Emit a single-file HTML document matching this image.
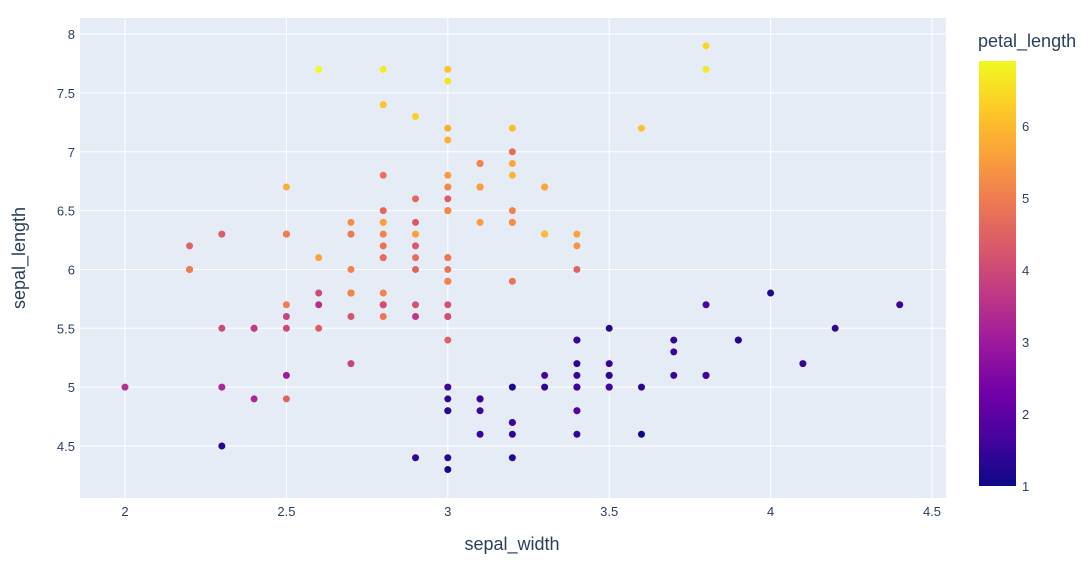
<!DOCTYPE html>
<html><head><meta charset="utf-8"><style>
body{margin:0;background:#fff;}
svg text{font-family:"Liberation Sans",sans-serif;fill:#2a3f5f;}
</style></head><body>
<svg id="chart" width="1091" height="561">
<defs><linearGradient id="plasma" x1="0" y1="1" x2="0" y2="0">
<stop offset="0" stop-color="#0d0887"/><stop offset="0.111" stop-color="#46039f"/><stop offset="0.222" stop-color="#7201a8"/><stop offset="0.333" stop-color="#9c179e"/><stop offset="0.444" stop-color="#bd3786"/><stop offset="0.555" stop-color="#d8576b"/><stop offset="0.666" stop-color="#ed7953"/><stop offset="0.777" stop-color="#fb9f3a"/><stop offset="0.888" stop-color="#fdca26"/><stop offset="1" stop-color="#f0f921"/>
</linearGradient></defs>
<rect x="80" y="18" width="866" height="480" fill="#e5ecf6"/>
<g id="grid"></g><g id="pts"></g><g id="ticks"></g>
<text x="512" y="550" font-size="18" text-anchor="middle">sepal_width</text>
<text transform="translate(25,258) rotate(-90)" font-size="18" text-anchor="middle">sepal_length</text>
<text x="978" y="47" font-size="18">petal_length</text>
<rect x="979" y="61" width="37" height="425" fill="url(#plasma)"/>
</svg>
<script>
const sepalLength=[5.1,4.9,4.7,4.6,5.0,5.4,4.6,5.0,4.4,4.9,5.4,4.8,4.8,4.3,5.8,5.7,5.4,5.1,5.7,5.1,5.4,5.1,4.6,5.1,4.8,5.0,5.0,5.2,5.2,4.7,4.8,5.4,5.2,5.5,4.9,5.0,5.5,4.9,4.4,5.1,5.0,4.5,4.4,5.0,5.1,4.8,5.1,4.6,5.3,5.0,
7.0,6.4,6.9,5.5,6.5,5.7,6.3,4.9,6.6,5.2,5.0,5.9,6.0,6.1,5.6,6.7,5.6,5.8,6.2,5.6,5.9,6.1,6.3,6.1,6.4,6.6,6.8,6.7,6.0,5.7,5.5,5.5,5.8,6.0,5.4,6.0,6.7,6.3,5.6,5.5,5.5,6.1,5.8,5.0,5.6,5.7,5.7,6.2,5.1,5.7,
6.3,5.8,7.1,6.3,6.5,7.6,4.9,7.3,6.7,7.2,6.5,6.4,6.8,5.7,5.8,6.4,6.5,7.7,7.7,6.0,6.9,5.6,7.7,6.3,6.7,7.2,6.2,6.1,6.4,7.2,7.4,7.9,6.4,6.3,6.1,7.7,6.3,6.4,6.0,6.9,6.7,6.9,5.8,6.8,6.7,6.7,6.3,6.5,6.2,5.9];
const sepalWidth=[3.5,3.0,3.2,3.1,3.6,3.9,3.4,3.4,2.9,3.1,3.7,3.4,3.0,3.0,4.0,4.4,3.9,3.5,3.8,3.8,3.4,3.7,3.6,3.3,3.4,3.0,3.4,3.5,3.4,3.2,3.1,3.4,4.1,4.2,3.1,3.2,3.5,3.1,3.0,3.4,3.5,2.3,3.2,3.5,3.8,3.0,3.8,3.2,3.7,3.3,
3.2,3.2,3.1,2.3,2.8,2.8,3.3,2.4,2.9,2.7,2.0,3.0,2.2,2.9,2.9,3.1,3.0,2.7,2.2,2.5,3.2,2.8,2.5,2.8,2.9,3.0,2.8,3.0,2.9,2.6,2.4,2.4,2.7,2.7,3.0,3.4,3.1,2.3,3.0,2.5,2.6,3.0,2.6,2.3,2.7,3.0,2.9,2.9,2.5,2.8,
3.3,2.7,3.0,2.9,3.0,3.0,2.5,2.9,2.5,3.6,3.2,2.7,3.0,2.5,2.8,3.2,3.0,3.8,2.6,2.2,3.2,2.8,2.8,2.7,3.3,3.2,2.8,3.0,2.8,3.0,2.8,3.8,2.8,2.8,2.6,3.0,3.4,3.1,3.0,3.1,3.1,3.1,2.7,3.2,3.3,3.0,2.5,3.0,3.4,3.0];
const petalLength=[1.4,1.4,1.3,1.5,1.4,1.7,1.4,1.5,1.4,1.5,1.5,1.6,1.4,1.1,1.2,1.5,1.3,1.4,1.7,1.5,1.7,1.5,1.0,1.7,1.9,1.6,1.6,1.5,1.4,1.6,1.6,1.5,1.5,1.4,1.5,1.2,1.3,1.5,1.3,1.5,1.3,1.3,1.3,1.6,1.9,1.4,1.6,1.4,1.5,1.4,
4.7,4.5,4.9,4.0,4.6,4.5,4.7,3.3,4.6,3.9,3.5,4.2,4.0,4.7,3.6,4.4,4.5,4.1,4.5,3.9,4.8,4.0,4.9,4.7,4.3,4.4,4.8,5.0,4.5,3.5,3.8,3.7,3.9,5.1,4.5,4.5,4.7,4.4,4.1,4.0,4.4,4.6,4.0,3.3,4.2,4.2,4.2,4.3,3.0,4.1,
6.0,5.1,5.9,5.6,5.8,6.6,4.5,6.3,5.8,6.1,5.1,5.3,5.5,5.0,5.1,5.3,5.5,6.7,6.9,5.0,5.7,4.9,6.7,4.9,5.7,6.0,4.8,4.9,5.6,5.8,6.1,6.4,5.6,5.1,5.6,6.1,5.6,5.5,4.8,5.4,5.6,5.1,5.1,5.9,5.7,5.2,5.0,5.2,5.4,5.1];
const xTicks=[2,2.5,3,3.5,4,4.5];
const yTicks=[4.5,5,5.5,6,6.5,7,7.5,8];
const cTicks=[1,2,3,4,5,6];
const xs=v=>125+(v-2)*322.8, ys=v=>446-(v-4.5)*117.7, cs=v=>486-(v-1)*72;
const stops=["#0d0887","#46039f","#7201a8","#9c179e","#bd3786","#d8576b","#ed7953","#fb9f3a","#fdca26","#f0f921"];
function hex(h){return [1,3,5].map(i=>parseInt(h.substr(i,2),16));}
function color(v){let t=Math.max(0,Math.min(1,(v-1)/5.9))*9;let i=Math.min(8,Math.floor(t)),f=t-i;let a=hex(stops[i]),b=hex(stops[i+1]);return `rgb(${a.map((c,k)=>Math.round(c+(b[k]-c)*f)).join(',')})`;}
const NS="http://www.w3.org/2000/svg";
const mk=(p,tag,at)=>{const e=document.createElementNS(NS,tag);for(const k in at)e.setAttribute(k,at[k]);document.getElementById(p).appendChild(e);return e;};
xTicks.forEach(v=>{
 const l=mk('grid','line',{x1:xs(v),x2:xs(v),y1:18,y2:498,stroke:'#fff','stroke-width':1});
 
 
 const t=mk('ticks','text',{x:xs(v),y:516,'font-size':13,'text-anchor':'middle'});t.textContent=v;
 
 
});
yTicks.forEach(v=>{
 const l=mk('grid','line',{x1:80,x2:946,y1:ys(v),y2:ys(v),stroke:'#fff','stroke-width':1});
 
 
 const t=mk('ticks','text',{x:75,y:ys(v)+5,'font-size':13,'text-anchor':'end'});t.textContent=v;
 
 
});
cTicks.forEach(v=>{
 const t=mk('ticks','text',{x:1022,y:cs(v)+5,'font-size':13});t.textContent=v;
 
 
});
sepalLength.forEach((sl,i)=>{
 const c=mk('pts','circle',{cx:xs(sepalWidth[i]),cy:ys(sl),r:3.5,fill:color(petalLength[i])});
 
 
});
</script>
</body></html>
